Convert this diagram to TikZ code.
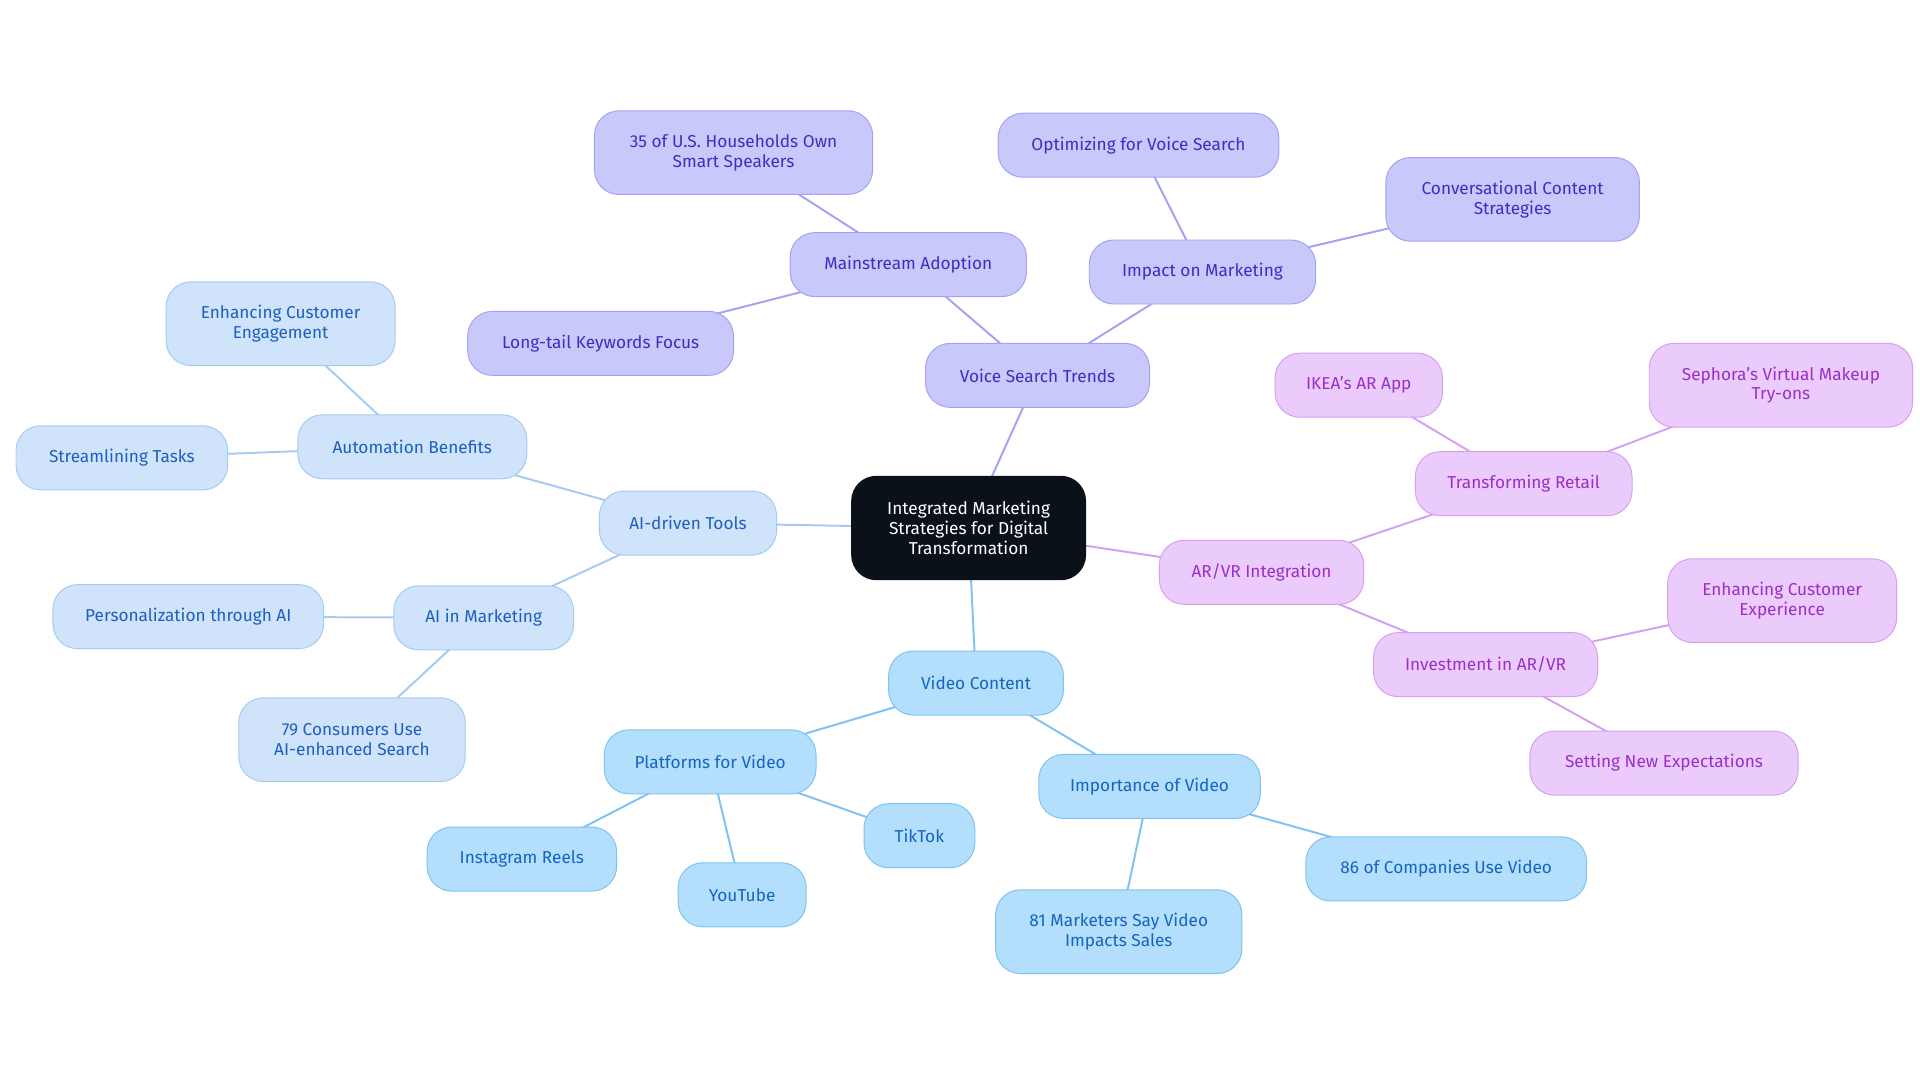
\documentclass[tikz,border=0pt]{standalone}
\usepackage{fontspec}
\setmainfont{Fira Sans}
\usetikzlibrary{backgrounds}
\definecolor{vsF}{HTML}{C8C8FA}
\definecolor{vsD}{HTML}{A3A3F2}
\definecolor{vsT}{HTML}{3A2FC0}
\definecolor{aiF}{HTML}{CFE3FA}
\definecolor{aiD}{HTML}{A6CBF2}
\definecolor{aiT}{HTML}{1F5FBF}
\definecolor{viF}{HTML}{B3DEFC}
\definecolor{viD}{HTML}{7EC3F4}
\definecolor{viT}{HTML}{1565C0}
\definecolor{arF}{HTML}{EBCBFB}
\definecolor{arD}{HTML}{D6A0F0}
\definecolor{arT}{HTML}{9A2FC8}
\definecolor{ctF}{HTML}{0B1119}
\tikzset{base/.style={rounded corners=20pt,align=center,inner sep=2pt,font=\fontsize{14}{16}\selectfont,line width=0.8pt}}
\tikzset{vs/.style={base,fill=vsF,draw=vsD,text=vsT}}
\tikzset{ai/.style={base,fill=aiF,draw=aiD,text=aiT}}
\tikzset{vi/.style={base,fill=viF,draw=viD,text=viT}}
\tikzset{ar/.style={base,fill=arF,draw=arD,text=arT}}
\tikzset{ct/.style={base,fill=ctF,draw=ctF,text=white}}
\tikzset{evs/.style={draw=vsD,line width=1.6pt}}
\tikzset{eai/.style={draw=aiD,line width=1.6pt}}
\tikzset{evi/.style={draw=viD,line width=1.6pt}}
\tikzset{ear/.style={draw=arD,line width=1.6pt}}
\begin{document}
\begin{tikzpicture}[x=1pt,y=-1pt]
\useasboundingbox (0,0) rectangle (1560,880);
\node[ct,minimum width=190pt,minimum height=84pt] (c) at (787,429) {Integrated Marketing\\Strategies for Digital\\Transformation};
\node[vs,minimum width=182pt,minimum height=52pt] (vst) at (843,305) {Voice Search Trends};
\node[vs,minimum width=192pt,minimum height=52pt] (ma) at (738,215) {Mainstream Adoption};
\node[vs,minimum width=226pt,minimum height=68pt] (us) at (596,124) {35 of U.S. Households Own\\Smart Speakers};
\node[vs,minimum width=216pt,minimum height=52pt] (lt) at (488,279) {Long-tail Keywords Focus};
\node[vs,minimum width=184pt,minimum height=52pt] (im) at (977,221) {Impact on Marketing};
\node[vs,minimum width=228pt,minimum height=52pt] (ov) at (925,118) {Optimizing for Voice Search};
\node[vs,minimum width=206pt,minimum height=68pt] (cc) at (1229,162) {Conversational Content\\Strategies};
\node[ai,minimum width=144pt,minimum height=52pt] (ait) at (559,425) {AI-driven Tools};
\node[ai,minimum width=186pt,minimum height=52pt] (ab) at (335,363) {Automation Benefits};
\node[ai,minimum width=186pt,minimum height=68pt] (ece) at (228,263) {Enhancing Customer\\Engagement};
\node[ai,minimum width=172pt,minimum height=52pt] (st) at (99,372) {Streamlining Tasks};
\node[ai,minimum width=146pt,minimum height=52pt] (aim) at (393,502) {AI in Marketing};
\node[ai,minimum width=220pt,minimum height=52pt] (pa) at (153,501) {Personalization through AI};
\node[ai,minimum width=184pt,minimum height=68pt] (cu) at (286,601) {79 Consumers Use\\AI-enhanced Search};
\node[vi,minimum width=142pt,minimum height=52pt] (vc) at (793,555) {Video Content};
\node[vi,minimum width=172pt,minimum height=52pt] (pv) at (577,619) {Platforms for Video};
\node[vi,minimum width=154pt,minimum height=52pt] (ir) at (424,698) {Instagram Reels};
\node[vi,minimum width=104pt,minimum height=52pt] (yt) at (603,727) {YouTube};
\node[vi,minimum width=90pt,minimum height=52pt] (tt) at (747,679) {TikTok};
\node[vi,minimum width=180pt,minimum height=52pt] (iv) at (934,639) {Importance of Video};
\node[vi,minimum width=228pt,minimum height=52pt] (co) at (1175,706) {86 of Companies Use Video};
\node[vi,minimum width=200pt,minimum height=68pt] (mk) at (909,757) {81 Marketers Say Video\\Impacts Sales};
\node[ar,minimum width=166pt,minimum height=52pt] (ari) at (1025,465) {AR/VR Integration};
\node[ar,minimum width=176pt,minimum height=52pt] (tr) at (1238,393) {Transforming Retail};
\node[ar,minimum width=136pt,minimum height=52pt] (ik) at (1104,313) {IKEA’s AR App};
\node[ar,minimum width=214pt,minimum height=68pt] (se) at (1447,313) {Sephora’s Virtual Makeup\\Try-ons};
\node[ar,minimum width=182pt,minimum height=52pt] (inv) at (1207,540) {Investment in AR/VR};
\node[ar,minimum width=186pt,minimum height=68pt] (ecx) at (1448,488) {Enhancing Customer\\Experience};
\node[ar,minimum width=218pt,minimum height=52pt] (sn) at (1352,620) {Setting New Expectations};
\begin{scope}[on background layer]
\draw[evs] (c.center)--(vst.center) (vst.center)--(ma.center) (ma.center)--(us.center) (ma.center)--(lt.center) (vst.center)--(im.center) (im.center)--(ov.center) (im.center)--(cc.center);
\draw[eai] (c.center)--(ait.center) (ait.center)--(ab.center) (ab.center)--(ece.center) (ab.center)--(st.center) (ait.center)--(aim.center) (aim.center)--(pa.center) (aim.center)--(cu.center);
\draw[evi] (c.center)--(vc.center) (vc.center)--(pv.center) (pv.center)--(ir.center) (pv.center)--(yt.center) (pv.center)--(tt.center) (vc.center)--(iv.center) (iv.center)--(co.center) (iv.center)--(mk.center);
\draw[ear] (c.center)--(ari.center) (ari.center)--(tr.center) (tr.center)--(ik.center) (tr.center)--(se.center) (ari.center)--(inv.center) (inv.center)--(ecx.center) (inv.center)--(sn.center);
\end{scope}
\end{tikzpicture}
\end{document}
